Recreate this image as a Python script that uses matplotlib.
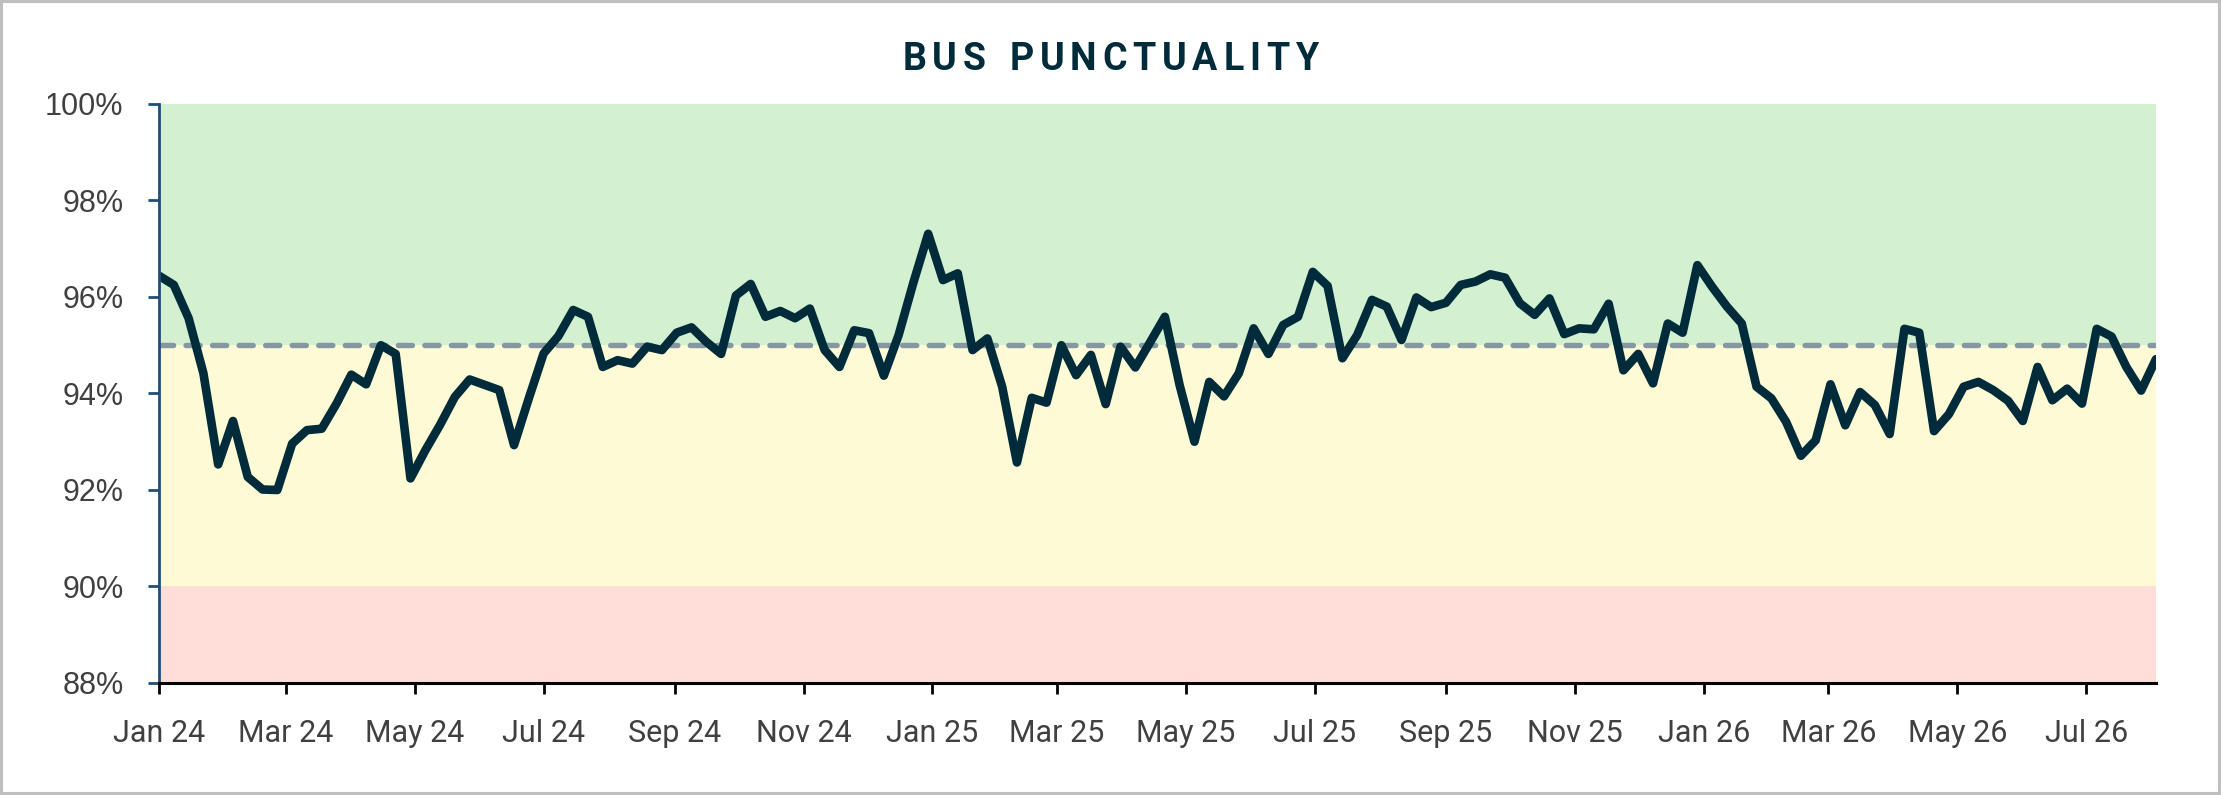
"""
Bus punctuality, weekly, with target bands.
"""
import matplotlib
matplotlib.use("Agg")
import matplotlib.pyplot as plt
import matplotlib.dates as mdates
import pandas as pd
from matplotlib.patches import Rectangle
from matplotlib.ticker import FuncFormatter, MultipleLocator

# weekly punctuality (%), first week starting Mon 1 Jan 2024
punctuality = [
    96.44, 96.25, 95.56, 94.42, 92.53, 93.43, 92.27, 92.01, 92.00, 92.96,
    93.24, 93.27, 93.79, 94.39, 94.19, 95.00, 94.82, 92.24, 92.82, 93.35,
    93.93, 94.29, 94.18, 94.07, 92.93, 93.90, 94.83, 95.19, 95.73, 95.59,
    94.55, 94.69, 94.62, 94.97, 94.90, 95.26, 95.37, 95.07, 94.82, 96.03,
    96.27, 95.59, 95.71, 95.56, 95.76, 94.90, 94.55, 95.31, 95.25, 94.37,
    95.21, 96.30, 97.31, 96.35, 96.49, 94.90, 95.14, 94.14, 92.57, 93.91,
    93.81, 95.00, 94.38, 94.80, 93.78, 94.97, 94.54, 95.06, 95.59, 94.17,
    93.00, 94.24, 93.94, 94.42, 95.35, 94.82, 95.42, 95.59, 96.52, 96.23,
    94.73, 95.21, 95.94, 95.80, 95.11, 95.99, 95.79, 95.88, 96.25, 96.32,
    96.47, 96.40, 95.87, 95.63, 95.97, 95.23, 95.35, 95.33, 95.86, 94.48,
    94.82, 94.21, 95.45, 95.26, 96.66, 96.21, 95.80, 95.45, 94.14, 93.90,
    93.41, 92.71, 93.03, 94.19, 93.34, 94.03, 93.76, 93.16, 95.34, 95.26,
    93.22, 93.57, 94.14, 94.24, 94.07, 93.85, 93.43, 94.55, 93.86, 94.10,
    93.79, 95.34, 95.18, 94.55, 94.06, 94.71,
]
weeks = pd.date_range("2024-01-01", periods=len(punctuality), freq="7D")

target = 95
# bands: (low, high, colour)
bands = [(95, 100, "#D3F1D0"), (90, 95, "#FEFAD5"), (88, 90, "#FFDED9")]
y_min, y_max = 88, 100

NAVY = "#002B3A"
GREY_TXT = "#404040"

fig = plt.figure(figsize=(22.21, 7.95), dpi=100)
fig.patch.set_facecolor("white")
ax = fig.add_axes([0.0716, 0.1409, 0.8991, 0.7283])

for lo, hi, col in bands:
    ax.axhspan(lo, hi, color=col, lw=0, zorder=0)

ax.axhline(target, color="#8497A3", lw=3.9, ls=(0, (2.6, 2.3)),
           dash_capstyle="round", zorder=2)
ax.plot(weeks, punctuality, color=NAVY, lw=6.2, solid_joinstyle="round",
        solid_capstyle="round", zorder=3)

ax.set_xlim(weeks[0], weeks[-1])
ax.set_ylim(y_min, y_max)

ax.yaxis.set_major_locator(MultipleLocator(2))
ax.yaxis.set_major_formatter(FuncFormatter(lambda v, p: f"{v:.0f}%"))
ax.xaxis.set_major_locator(mdates.MonthLocator(bymonth=range(1, 13, 2)))
ax.xaxis.set_major_formatter(mdates.DateFormatter("%b %y"))

for s in ("top", "right"):
    ax.spines[s].set_visible(False)
ax.spines["left"].set_color("#1F4E79")
ax.spines["left"].set_linewidth(2.0)
ax.spines["bottom"].set_color("black")
ax.spines["bottom"].set_linewidth(2.2)
ax.spines["left"].set_zorder(4)
ax.spines["bottom"].set_zorder(4)

ax.tick_params(axis="y", direction="out", length=8, width=2.0, color="#1F4E79",
               pad=17.5, labelsize=22, labelcolor=GREY_TXT)
ax.tick_params(axis="x", direction="out", length=8, width=2.0, color="black",
               pad=18, labelsize=22, labelcolor=GREY_TXT)
for lab in ax.get_yticklabels():
    lab.set_fontfamily("Liberation Sans")
for lab in ax.get_xticklabels():
    lab.set_fontfamily("Roboto")

# title with letter spacing
title = "BUS PUNCTUALITY"
renderer = fig.canvas.get_renderer()
W = fig.get_figwidth() * fig.dpi
track_px = 5.8
space_px = 12
base_y = 1 - 70 / 795
parts = []
for ch in title:
    if ch == " ":
        parts.append((None, space_px))
        continue
    t = fig.text(0, base_y, ch, ha="left", va="baseline", fontsize=27,
                 fontweight="bold", color=NAVY, family="Roboto")
    parts.append((t, t.get_window_extent(renderer).width))
total = sum(w for _, w in parts) + track_px * (len(parts) - 1)
x = W / 2 - total / 2
for t, w in parts:
    if t is not None:
        t.set_x(x / W)
    x += w + track_px

# chart border
fig.patches.append(Rectangle((0, 0), 1, 1, transform=fig.transFigure,
                             fill=False, edgecolor="#BFBFBF", lw=4.4))

fig.savefig("out.png", dpi=100, facecolor="white")
